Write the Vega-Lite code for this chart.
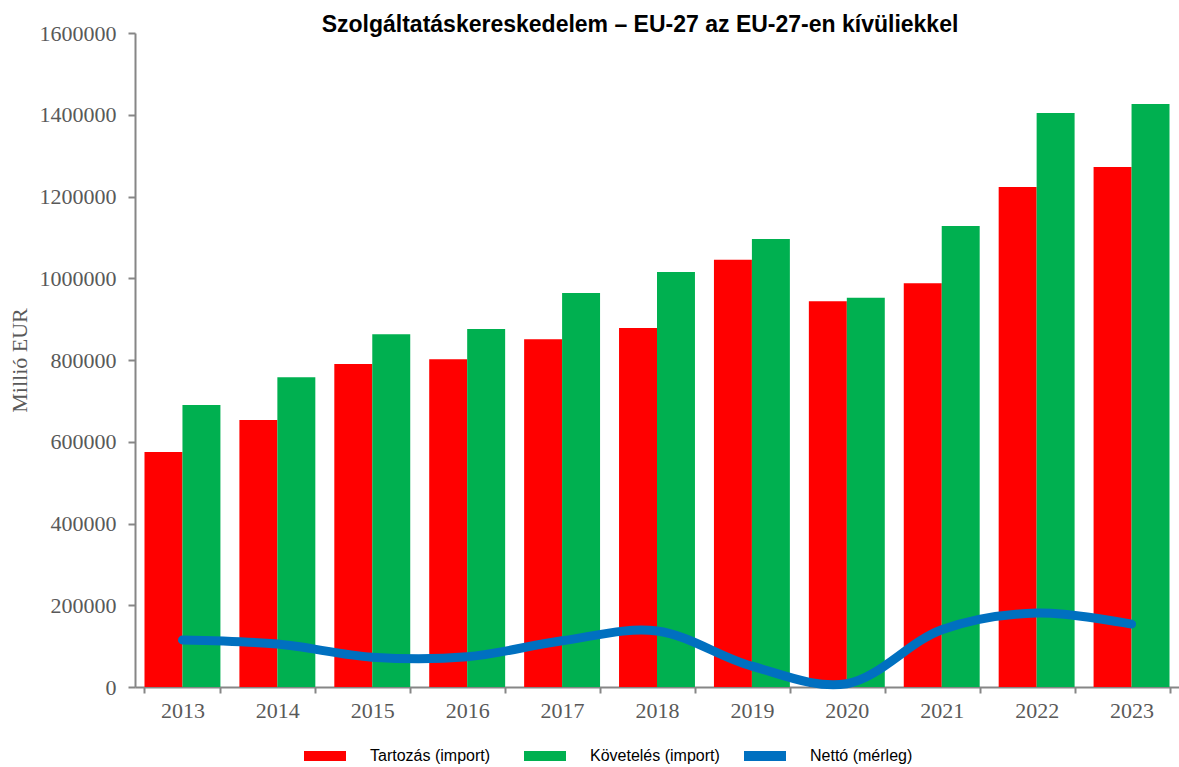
{
  "$schema": "https://vega.github.io/schema/vega-lite/v6.json",
  "width": 1044,
  "height": 654,
  "autosize": {"type": "none"},
  "padding": {"left": 135, "top": 33, "right": 0, "bottom": 80},
  "background": "white",
  "title": {
    "text": "Szolgáltatáskereskedelem – EU-27 az EU-27-en kívüliekkel",
    "font": "Liberation Sans",
    "fontWeight": "bold",
    "fontSize": 23,
    "color": "#000000",
    "anchor": "middle",
    "baseline": "alphabetic",
    "offset": -4,
    "dx": -17,
    "dy": 29
  },
  "data": {
    "values": [
      {"ev": "2013", "sorozat": "Tartozás (import)", "ertek": 575000},
      {"ev": "2014", "sorozat": "Tartozás (import)", "ertek": 653000},
      {"ev": "2015", "sorozat": "Tartozás (import)", "ertek": 790000},
      {"ev": "2016", "sorozat": "Tartozás (import)", "ertek": 802000},
      {"ev": "2017", "sorozat": "Tartozás (import)", "ertek": 851000},
      {"ev": "2018", "sorozat": "Tartozás (import)", "ertek": 878000},
      {"ev": "2019", "sorozat": "Tartozás (import)", "ertek": 1045000},
      {"ev": "2020", "sorozat": "Tartozás (import)", "ertek": 944000},
      {"ev": "2021", "sorozat": "Tartozás (import)", "ertek": 988000},
      {"ev": "2022", "sorozat": "Tartozás (import)", "ertek": 1223000},
      {"ev": "2023", "sorozat": "Tartozás (import)", "ertek": 1272000},
      {"ev": "2013", "sorozat": "Követelés (import)", "ertek": 690000},
      {"ev": "2014", "sorozat": "Követelés (import)", "ertek": 758000},
      {"ev": "2015", "sorozat": "Követelés (import)", "ertek": 863000},
      {"ev": "2016", "sorozat": "Követelés (import)", "ertek": 876000},
      {"ev": "2017", "sorozat": "Követelés (import)", "ertek": 964000},
      {"ev": "2018", "sorozat": "Követelés (import)", "ertek": 1015000},
      {"ev": "2019", "sorozat": "Követelés (import)", "ertek": 1096000},
      {"ev": "2020", "sorozat": "Követelés (import)", "ertek": 952000},
      {"ev": "2021", "sorozat": "Követelés (import)", "ertek": 1128000},
      {"ev": "2022", "sorozat": "Követelés (import)", "ertek": 1404000},
      {"ev": "2023", "sorozat": "Követelés (import)", "ertek": 1426000},
      {"ev": "2013", "sorozat": "Nettó (mérleg)", "ertek": 115000},
      {"ev": "2014", "sorozat": "Nettó (mérleg)", "ertek": 105000},
      {"ev": "2015", "sorozat": "Nettó (mérleg)", "ertek": 73000},
      {"ev": "2016", "sorozat": "Nettó (mérleg)", "ertek": 74000},
      {"ev": "2017", "sorozat": "Nettó (mérleg)", "ertek": 113000},
      {"ev": "2018", "sorozat": "Nettó (mérleg)", "ertek": 137000},
      {"ev": "2019", "sorozat": "Nettó (mérleg)", "ertek": 51000},
      {"ev": "2020", "sorozat": "Nettó (mérleg)", "ertek": 8000},
      {"ev": "2021", "sorozat": "Nettó (mérleg)", "ertek": 140000},
      {"ev": "2022", "sorozat": "Nettó (mérleg)", "ertek": 181000},
      {"ev": "2023", "sorozat": "Nettó (mérleg)", "ertek": 154000}
    ]
  },
  "encoding": {
    "x": {
      "field": "ev",
      "type": "nominal",
      "sort": null,
      "title": null,
      "scale": {"paddingInner": 0.2, "paddingOuter": 0.1},
      "axis": {
        "labelAngle": 0,
        "labelFont": "Liberation Serif",
        "labelFontSize": 22,
        "labelColor": "#595959",
        "labelPadding": 7,
        "domainColor": "#868686",
        "domainWidth": 2,
        "tickColor": "#868686",
        "tickWidth": 2,
        "tickSize": 6,
        "tickBand": "extent",
        "grid": false
      }
    },
    "y": {
      "field": "ertek",
      "type": "quantitative",
      "title": "Millió EUR",
      "scale": {"domain": [0, 1600000], "nice": false},
      "axis": {
        "values": [0, 200000, 400000, 600000, 800000, 1000000, 1200000, 1400000, 1600000],
        "format": "d",
        "labelFont": "Liberation Serif",
        "labelFontSize": 22,
        "labelColor": "#595959",
        "labelPadding": 12,
        "domainColor": "#868686",
        "domainWidth": 2,
        "tickColor": "#868686",
        "tickWidth": 2,
        "tickSize": 7,
        "grid": false,
        "titleFont": "Liberation Serif",
        "titleFontSize": 22,
        "titleFontWeight": "normal",
        "titleColor": "#595959",
        "titlePadding": 8
      }
    },
    "color": {
      "field": "sorozat",
      "type": "nominal",
      "scale": {
        "domain": ["Tartozás (import)", "Követelés (import)", "Nettó (mérleg)"],
        "range": ["#FF0000", "#00B050", "#0070C0"]
      },
      "legend": {
        "title": null,
        "orient": "none",
        "legendX": 169,
        "legendY": 702,
        "direction": "horizontal",
        "columns": 3,
        "gridAlign": "all",
        "columnPadding": 24,
        "symbolType": "M-1,-0.24H1V0.24H-1Z",
        "symbolSize": 1764,
        "symbolStrokeWidth": 0,
        "symbolOpacity": 1,
        "labelFont": "Liberation Sans",
        "labelFontSize": 16,
        "labelColor": "#000000",
        "labelOffset": 24,
        "labelLimit": 300
      }
    }
  },
  "layer": [
    {
      "transform": [{"filter": "datum.sorozat !== 'Nettó (mérleg)'"}],
      "mark": {"type": "bar", "opacity": 1},
      "encoding": {
        "xOffset": {
          "field": "sorozat",
          "type": "nominal",
          "sort": ["Tartozás (import)", "Követelés (import)"],
          "scale": {"paddingInner": 0, "paddingOuter": 0}
        }
      }
    },
    {
      "transform": [{"filter": "datum.sorozat === 'Nettó (mérleg)'"}],
      "mark": {
        "type": "line",
        "interpolate": "catmull-rom",
        "strokeWidth": 9,
        "strokeCap": "round",
        "strokeJoin": "round"
      },
      "encoding": {}
    }
  ],
  "config": {
    "view": {"stroke": null}
  }
}
